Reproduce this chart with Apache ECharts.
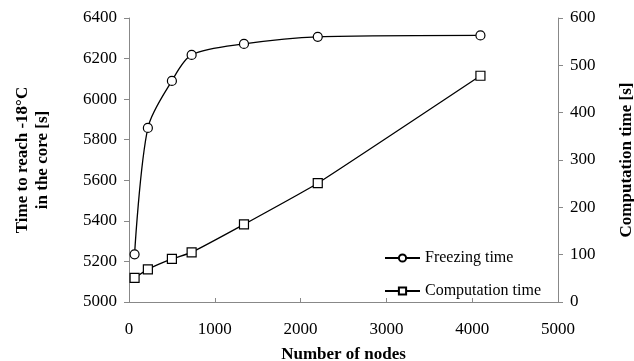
<!DOCTYPE html>
<html><head><meta charset="utf-8">
<script src="https://cdn.jsdelivr.net/npm/echarts@6/dist/echarts.min.js"></script>
<style>html,body{margin:0;padding:0;background:#fff}#c{width:634px;height:361px}</style>
</head><body><div id="c"></div>
<script>
const nodes = [65, 220, 500, 730, 1340, 2200, 4096];
const freezingTime = [5235, 5858, 6090, 6218, 6272, 6307, 6314];
const computationTime = [51, 69, 91, 105, 164, 251, 478];
const xTicks = [0, 1000, 2000, 3000, 4000, 5000];

const F = 'Liberation Serif';
const chart = echarts.init(document.getElementById('c'));
const lbl = {color:'#000', fontFamily:F, fontSize:17, formatter:v=>String(v)};
chart.setOption({
  animation:false,
  backgroundColor:'#fff',
  grid:{left:129, right:76, top:18, bottom:59, containLabel:false, outerBoundsMode:'none'},
  legend:{
    orient:'vertical', left:379, top:245, itemGap:17, itemWidth:35, itemHeight:9,
    textStyle:{color:'#000', fontFamily:F, fontSize:16},
    data:['Freezing time','Computation time']
  },
  xAxis:{
    type:'value', min:0, max:5000, interval:1000,
    name:'Number of nodes', nameLocation:'middle', nameGap:44, nameMoveOverlap:false,
    nameTextStyle:{color:'#000', fontFamily:F, fontSize:17, fontWeight:'bold'},
    axisLine:{show:true, lineStyle:{color:'#888', width:1}},
    axisTick:{show:true, inside:true, length:4, lineStyle:{color:'#888'}},
    axisLabel:Object.assign({}, lbl, {margin:19}),
    splitLine:{show:false}
  },
  yAxis:[{
    type:'value', min:5000, max:6400, interval:200, position:'left',
    name:'Time to reach -18°C\nin the core [s]', nameLocation:'middle', nameGap:76, nameRotate:90, nameMoveOverlap:false,
    nameTextStyle:{color:'#000', fontFamily:F, fontSize:17, fontWeight:'bold', lineHeight:20},
    axisLine:{show:true, lineStyle:{color:'#888', width:1}},
    axisTick:{show:true, length:5, lineStyle:{color:'#888'}},
    axisLabel:Object.assign({}, lbl, {margin:12}),
    splitLine:{show:false}
  },{
    type:'value', min:0, max:600, interval:100, position:'right',
    name:'Computation time [s]', nameLocation:'middle', nameGap:60, nameRotate:90, nameMoveOverlap:false,
    nameTextStyle:{color:'#000', fontFamily:F, fontSize:17, fontWeight:'bold'},
    axisLine:{show:true, lineStyle:{color:'#888', width:1}},
    axisTick:{show:true, length:5, lineStyle:{color:'#888'}},
    axisLabel:Object.assign({}, lbl, {margin:12}),
    splitLine:{show:false}
  }],
  series:[{
    name:'Freezing time', type:'line', yAxisIndex:0,
    data:nodes.map((x,i)=>[x,freezingTime[i]]),
    smooth:0.3,
    symbol:'circle', symbolSize:9,
    lineStyle:{color:'#000', width:1.3},
    itemStyle:{color:'#fff', borderColor:'#000', borderWidth:1.2}
  },{
    name:'Computation time', type:'line', yAxisIndex:1,
    data:nodes.map((x,i)=>[x,computationTime[i]]),
    smooth:0.12,
    symbol:'rect', symbolSize:9,
    lineStyle:{color:'#000', width:1.3},
    itemStyle:{color:'#fff', borderColor:'#000', borderWidth:1.2}
  }]
});
</script></body></html>
